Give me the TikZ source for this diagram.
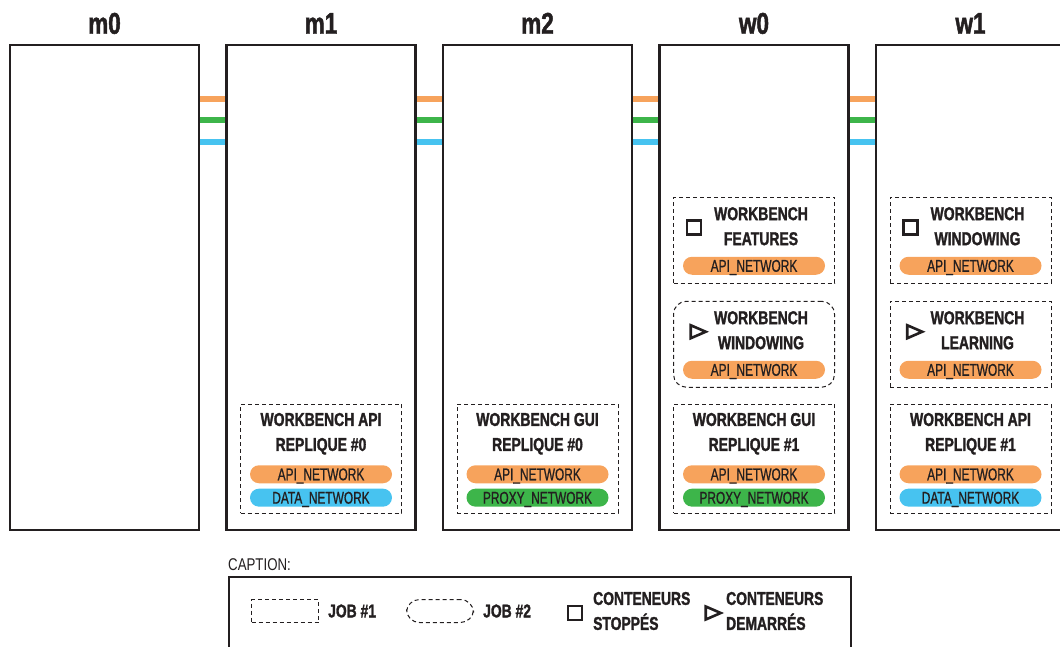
\documentclass[tikz,border=0pt]{standalone}
\usepackage{fontspec}
\setmainfont{Liberation Sans}[FakeStretch=0.78]
\newfontfamily\condbold{Liberation Sans}[FakeStretch=0.75, FakeBold=1.5]
\newfontfamily\pillfont{Liberation Sans}[FakeStretch=0.7, FakeBold=0.8]
\usepackage{xcolor}
\usepackage{tikz}
\usetikzlibrary{positioning, calc, shapes.geometric}

\definecolor{ink}{HTML}{231F20}
\definecolor{apiorange}{HTML}{F7A35C}
\definecolor{proxygreen}{HTML}{3DB54A}
\definecolor{datablue}{HTML}{47C3F0}

\begin{document}
\begin{tikzpicture}[x=1pt, y=-1pt, every node/.style={text=ink}]
        % Styles for machines, jobs and networks
        \tikzstyle{machine} = [rectangle, draw=ink, line width=2.5pt, minimum width=189pt, minimum height=485pt, inner sep=0pt]
        \tikzstyle{title} = [font=\fontsize{30}{32}\condbold\bfseries, anchor=base]
        \tikzstyle{job} = [rectangle, draw=ink, line width=1pt, dash pattern=on 4pt off 3pt, minimum width=161pt, anchor=north, inner sep=0pt]
        \tikzstyle{jobtwo} = [job, rounded corners=13pt]
        \tikzstyle{boxtext} = [font=\fontsize{18.6}{25}\condbold\bfseries, align=center, inner sep=0pt]
        \tikzstyle{pill} = [rectangle, rounded corners=9pt, minimum width=142pt, minimum height=18pt, inner sep=0pt, text height=12pt, text depth=0pt, font=\fontsize{17}{18}\pillfont]
        \tikzstyle{stopped} = [rectangle, draw=ink, line width=2.6pt, minimum size=14pt, inner sep=0pt]
        \tikzstyle{started} = [isosceles triangle, draw=ink, line width=2.6pt, isosceles triangle apex angle=48, isosceles triangle stretches, minimum height=15pt, minimum width=13pt, inner sep=0pt]
        \tikzstyle{net} = [line width=6pt]
        \tikzstyle{legendtext} = [font=\fontsize{18.5}{25}\condbold\bfseries, align=left, inner sep=0pt]

        \useasboundingbox (0,0) rectangle (1060,647);
        \clip (0,0) rectangle (1060,647);

        % Machines
        \node (m0) [machine] at (104.5,287.5) {};
        \node (m1) [machine, right=25pt of m0] {};
        \node (m2) [machine, right=25pt of m1] {};
        \node (w0) [machine, right=25pt of m2] {};
        \node (w1) [machine, right=25pt of w0] {};

        \node [title] at ($(m0.north)+(0,-10)$) {m0};
        \node [title] at ($(m1.north)+(0,-10)$) {m1};
        \node [title] at ($(m2.north)+(0,-10)$) {m2};
        \node [title] at ($(w0.north)+(0,-10)$) {w0};
        \node [title] at ($(w1.north)+(0,-10)$) {w1};

        % Networks between machines
        \draw [net, apiorange] ($(m0.north east)+(0,55)$) -- ($(m1.north west)+(0,55)$);
        \draw [net, proxygreen] ($(m0.north east)+(0,76)$) -- ($(m1.north west)+(0,76)$);
        \draw [net, datablue] ($(m0.north east)+(0,98)$) -- ($(m1.north west)+(0,98)$);
        \draw [net, apiorange] ($(m1.north east)+(0,55)$) -- ($(m2.north west)+(0,55)$);
        \draw [net, proxygreen] ($(m1.north east)+(0,76)$) -- ($(m2.north west)+(0,76)$);
        \draw [net, datablue] ($(m1.north east)+(0,98)$) -- ($(m2.north west)+(0,98)$);
        \draw [net, apiorange] ($(m2.north east)+(0,55)$) -- ($(w0.north west)+(0,55)$);
        \draw [net, proxygreen] ($(m2.north east)+(0,76)$) -- ($(w0.north west)+(0,76)$);
        \draw [net, datablue] ($(m2.north east)+(0,98)$) -- ($(w0.north west)+(0,98)$);
        \draw [net, apiorange] ($(w0.north east)+(0,55)$) -- ($(w1.north west)+(0,55)$);
        \draw [net, proxygreen] ($(w0.north east)+(0,76)$) -- ($(w1.north west)+(0,76)$);
        \draw [net, datablue] ($(w0.north east)+(0,98)$) -- ($(w1.north west)+(0,98)$);

        % m1: workbench api
        \node (apim1) [job, minimum height=109pt] at ($(m1.north)+(0,360)$) {};
        \node [boxtext] at ($(apim1.north)+(0,30)$) {WORKBENCH API\\REPLIQUE \#0};
        \node (apim1api) [pill, fill=apiorange] at ($(apim1.north)+(0,70.5)$) {API\_NETWORK};
        \node (apim1data) [pill, fill=datablue, below=5pt of apim1api] {DATA\_NETWORK};

        % m2: workbench gui
        \node (guim2) [job, minimum height=109pt] at ($(m2.north)+(0,360)$) {};
        \node [boxtext] at ($(guim2.north)+(0,30)$) {WORKBENCH GUI\\REPLIQUE \#0};
        \node (guim2api) [pill, fill=apiorange] at ($(guim2.north)+(0,70.5)$) {API\_NETWORK};
        \node (guim2proxy) [pill, fill=proxygreen, below=5pt of guim2api] {PROXY\_NETWORK};

        % w0: features, windowing, gui
        \node (featw0) [job, minimum height=86pt] at ($(w0.north)+(0,153)$) {};
        \node [stopped] at ($(featw0.north)+(-60,31)$) {};
        \node [boxtext] at ($(featw0.north)+(7,29.5)$) {WORKBENCH\\FEATURES};
        \node (featw0api) [pill, fill=apiorange] at ($(featw0.north)+(0,69)$) {API\_NETWORK};

        \node (windw0) [jobtwo, minimum height=86pt] at ($(w0.north)+(0,257)$) {};
        \node [started] at ($(windw0.north)+(-59,31)$) {};
        \node [boxtext] at ($(windw0.north)+(7,29.5)$) {WORKBENCH\\WINDOWING};
        \node (windw0api) [pill, fill=apiorange] at ($(windw0.north)+(0,69)$) {API\_NETWORK};

        \node (guiw0) [job, minimum height=109pt] at ($(w0.north)+(0,360)$) {};
        \node [boxtext] at ($(guiw0.north)+(0,30)$) {WORKBENCH GUI\\REPLIQUE \#1};
        \node (guiw0api) [pill, fill=apiorange] at ($(guiw0.north)+(0,70.5)$) {API\_NETWORK};
        \node (guiw0proxy) [pill, fill=proxygreen, below=5pt of guiw0api] {PROXY\_NETWORK};

        % w1: windowing, learning, api
        \node (windw1) [job, minimum height=86pt] at ($(w1.north)+(0,153)$) {};
        \node [stopped] at ($(windw1.north)+(-60,31)$) {};
        \node [boxtext] at ($(windw1.north)+(7,29.5)$) {WORKBENCH\\WINDOWING};
        \node (windw1api) [pill, fill=apiorange] at ($(windw1.north)+(0,69)$) {API\_NETWORK};

        \node (learnw1) [job, minimum height=86pt] at ($(w1.north)+(0,257)$) {};
        \node [started] at ($(learnw1.north)+(-59,31)$) {};
        \node [boxtext] at ($(learnw1.north)+(7,29.5)$) {WORKBENCH\\LEARNING};
        \node (learnw1api) [pill, fill=apiorange] at ($(learnw1.north)+(0,69)$) {API\_NETWORK};

        \node (apiw1) [job, minimum height=109pt] at ($(w1.north)+(0,360)$) {};
        \node [boxtext] at ($(apiw1.north)+(0,30)$) {WORKBENCH API\\REPLIQUE \#1};
        \node (apiw1api) [pill, fill=apiorange] at ($(apiw1.north)+(0,70.5)$) {API\_NETWORK};
        \node (apiw1data) [pill, fill=datablue, below=5pt of apiw1api] {DATA\_NETWORK};

        % Caption
        \node (caption) [rectangle, draw=ink, line width=1.5pt, anchor=north west, minimum width=622pt, minimum height=100pt] at (228,576) {};
        \node [anchor=south west, inner sep=0pt, font=\fontsize{17}{18}\selectfont] at ($(caption.north west)+(0,-5)$) {CAPTION:};
        \node (legjob1) [job, anchor=center, minimum width=67pt, minimum height=23pt] at ($(caption.north west)+(57,35)$) {};
        \node (legjob1txt) [legendtext, right=9pt of legjob1] {JOB \#1};
        \node (legjob2) [jobtwo, anchor=center, minimum width=67pt, minimum height=23pt] at ($(caption.north west)+(212,35)$) {};
        \node (legjob2txt) [legendtext, right=9pt of legjob2] {JOB \#2};
        \node (legstop) [stopped] at ($(caption.north west)+(347,37)$) {};
        \node (legstoptxt) [legendtext, anchor=west] at ($(caption.north west)+(365,35)$) {CONTENEURS\\STOPPÉS};
        \node (legstart) [started] at ($(caption.north west)+(482,37)$) {};
        \node (legstarttxt) [legendtext, anchor=west] at ($(caption.north west)+(498,35)$) {CONTENEURS\\DEMARRÉS};
    \end{tikzpicture}
\end{document}
